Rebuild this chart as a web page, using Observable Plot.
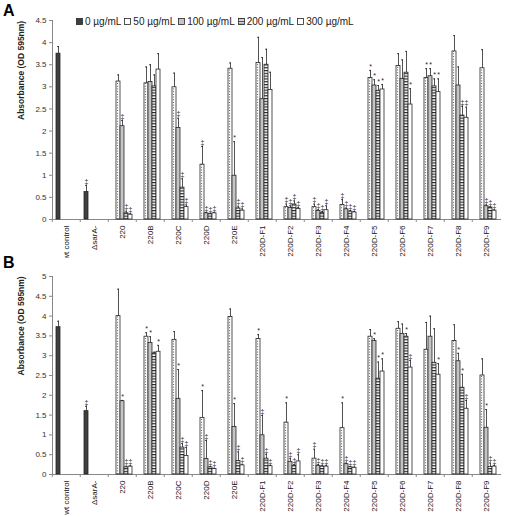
<!DOCTYPE html>
<html><head><meta charset="utf-8">
<script src="https://cdn.jsdelivr.net/npm/d3@7"></script>
<script src="https://cdn.jsdelivr.net/npm/@observablehq/plot@0.6"></script>
<style>
body{margin:0;background:#fff;font-family:"Liberation Sans",Arial,sans-serif;}
#wrap{position:relative;width:510px;height:517px;overflow:hidden;}
#wrap > div.chart{position:absolute;left:0;}
.letter{position:absolute;font-weight:bold;font-size:16px;color:#000;}
#legend{position:absolute;left:76px;top:16px;display:flex;align-items:center;font-size:10px;color:#222;white-space:nowrap;}
#legend .item{display:flex;align-items:center;margin-right:3px;}
#legend svg{margin-right:2px;}
</style></head><body>
<svg width="0" height="0" style="position:absolute">
  <defs>
    <pattern id="stripes" patternUnits="userSpaceOnUse" width="4" height="2.8">
      <rect width="4" height="2.8" fill="white"/>
      <rect y="0" width="4" height="1.2" fill="#2a2a2a"/>
    </pattern>
  </defs>
</svg>
<div id="wrap"></div>
<script>
const categories = ["wt control", "ΔsarA-", "220", "220B", "220C", "220D", "220E",
  "220D-F1", "220D-F2", "220D-F3", "220D-F4", "220D-F5", "220D-F6", "220D-F7", "220D-F8", "220D-F9"];
const series = ["0 µg/mL", "50 µg/mL", "100 µg/mL", "200 µg/mL", "300 µg/mL"];
const fills = ["#3f3f3f", "white", "#c4c4c4", "url(#stripes)", "white"];
const yLabel = "Absorbance (OD 595nm)";
const yTicksA = [0, 0.5, 1, 1.5, 2, 2.5, 3, 3.5, 4, 4.5];
const yTicksB = [0, 0.5, 1, 1.5, 2, 2.5, 3, 3.5, 4, 4.5, 5];

// Panel A
const a0    = [3.75, 0.62, null, null, null, null, null, null, null, null, null, null, null, null, null, null];
const a0err = [0.16, 0.15, null, null, null, null, null, null, null, null, null, null, null, null, null, null];
const a50    = [null, null, 3.12, 3.08, 2.99, 1.24, 3.41, 3.54, 0.28, 0.28, 0.33, 3.20, 3.47, 3.20, 3.80, 3.42];
const a50err = [null, null, 0.15, 0.37, 0.32, 0.41, 0.13, 0.58, 0.07, 0.07, 0.12, 0.17, 0.28, 0.21, 0.36, 0.42];
const a100    = [null, null, 2.11, 3.11, 2.07, 0.14, 0.99, 2.72, 0.26, 0.19, 0.23, 3.03, 3.18, 3.24, 3.03, 0.30];
const a100err = [null, null, 0.13, 0.39, 0.22, 0.02, 0.77, 0.94, 0.05, 0.03, 0.03, 0.13, 0.43, 0.17, 0.42, 0.03];
const a200    = [null, null, 0.14, 3.01, 0.72, 0.12, 0.25, 3.50, 0.34, 0.15, 0.18, 2.91, 3.32, 3.01, 2.35, 0.27];
const a200err = [null, null, 0.05, 0.26, 0.20, 0.02, 0.05, 0.35, 0.08, 0.03, 0.02, 0.12, 0.48, 0.17, 0.21, 0.02];
const a300    = [null, null, 0.11, 3.39, 0.28, 0.14, 0.20, 2.93, 0.24, 0.21, 0.16, 2.94, 2.60, 2.88, 2.30, 0.20];
const a300err = [null, null, 0.02, 0.36, 0.05, 0.02, 0.04, 0.40, 0.03, 0.10, 0.02, 0.11, 0.36, 0.30, 0.24, 0.02];
const aSig0   = ["", "‡", "", "", "", "", "", "", "", "", "", "", "", "", "", ""];
const aSig50  = ["", "", "", "", "", "‡", "", "", "‡", "‡", "‡", "*", "", "*", "", ""];
const aSig100 = ["", "", "‡", "", "‡", "‡", "*", "", "‡", "‡", "‡", "*", "", "*", "", "‡"];
const aSig200 = ["", "", "‡", "", "‡", "‡", "‡", "", "‡", "‡", "‡", "*", "", "*", "‡", "‡"];
const aSig300 = ["", "", "‡", "", "‡", "‡", "‡", "", "‡", "‡", "‡", "*", "*", "*", "‡", "‡"];

// Panel B
const b0    = [3.72, 1.60, null, null, null, null, null, null, null, null, null, null, null, null, null, null];
const b0err = [0.15, 0.12, null, null, null, null, null, null, null, null, null, null, null, null, null, null];
const b50    = [null, null, 4.00, 3.48, 3.40, 1.43, 3.98, 3.42, 1.31, 0.40, 1.17, 3.48, 3.68, 3.15, 3.37, 2.50];
const b50err = [null, null, 0.68, 0.10, 0.21, 0.69, 0.20, 0.11, 0.50, 0.24, 0.64, 0.18, 0.18, 0.69, 0.41, 0.42];
const b100    = [null, null, 1.85, 3.32, 1.91, 0.39, 1.20, 0.99, 0.32, 0.22, 0.26, 3.37, 3.55, 3.48, 2.86, 1.18];
const b100err = [null, null, 0.02, 0.16, 0.74, 0.47, 0.59, 0.50, 0.08, 0.03, 0.03, 0.06, 0.25, 0.52, 0.20, 0.46];
const b200    = [null, null, 0.18, 3.06, 0.68, 0.18, 0.34, 0.40, 0.22, 0.20, 0.18, 2.42, 3.48, 2.82, 2.19, 0.19];
const b200err = [null, null, 0.03, 0.03, 0.10, 0.02, 0.23, 0.11, 0.03, 0.03, 0.02, 0.42, 0.08, 0.86, 0.34, 0.10];
const b300    = [null, null, 0.20, 3.10, 0.47, 0.14, 0.23, 0.21, 0.33, 0.20, 0.17, 2.60, 2.70, 2.52, 1.66, 0.20];
const b300err = [null, null, 0.02, 0.16, 0.21, 0.02, 0.03, 0.02, 0.17, 0.03, 0.02, 0.32, 0.18, 0.28, 0.21, 0.03];
const bSig0   = ["", "‡", "", "", "", "", "", "", "", "", "", "", "", "", "", ""];
const bSig50  = ["", "", "", "*", "", "*", "", "*", "*", "‡", "*", "", "", "", "", ""];
const bSig100 = ["", "", "*", "*", "*", "‡", "*", "‡", "‡", "‡", "‡", "*", "", "", "*", "*"];
const bSig200 = ["", "", "‡", "", "‡", "‡", "‡", "‡", "‡", "‡", "‡", "*", "*", "", "*", "‡"];
const bSig300 = ["", "", "‡", "*", "‡", "‡", "‡", "‡", "‡", "‡", "‡", "*", "‡", "*", "‡", "‡"];

function rows(vals, errs, sigs) {
  const out = [];
  series.forEach((s, j) => categories.forEach((c, i) => {
    const v = vals[j][i];
    if (v == null) return;
    out.push({cat: c, series: s, value: v, top: v + errs[j][i], sig: sigs[j][i]});
  }));
  return out;
}

const dataA = rows([a0, a50, a100, a200, a300], [a0err, a50err, a100err, a200err, a300err], [aSig0, aSig50, aSig100, aSig200, aSig300]);
const dataB = rows([b0, b50, b100, b200, b300], [b0err, b50err, b100err, b200err, b300err], [bSig0, bSig50, bSig100, bSig200, bSig300]);

const ink = "#262626";
function chart(data, yDomain, yTicks, height, mt, mb) {
  return Plot.plot({
    width: 510, height, marginTop: mt, marginBottom: mb, marginLeft: 48, marginRight: 6,
    style: {fontFamily: "'Liberation Sans', Arial, sans-serif", background: "white", color: "#111", overflow: "visible"},
    fx: {domain: categories, padding: 0, label: null},
    x: {domain: series, axis: null, paddingInner: 0, paddingOuter: 0.47},
    y: {domain: yDomain, label: null},
    color: {domain: series, range: fills},
    marks: [
      Plot.frame({anchor: "left", facetAnchor: "left", stroke: "#888"}),
      Plot.frame({anchor: "bottom", stroke: "#888"}),
      Plot.axisY({ticks: yTicks, tickFormat: d => String(d), tickSize: 3, tickPadding: 3, fontSize: 8, stroke: "#888", fill: "#333", label: null}),
      Plot.axisFx({anchor: "bottom", tickSize: 3, tickFormat: () => "", stroke: "#888", dx: -14.25, label: null}),
      Plot.axisFx({anchor: "bottom", tickRotate: -90, tickSize: 0, tickPadding: 6, fontSize: 8, fill: "#111", label: null}),
      Plot.barY(data, {fx: "cat", x: "series", y: "value", fill: "series", stroke: ink, strokeWidth: 0.8}),
      Plot.ruleX(data.filter(d => d.series === series[1]), {fx: "cat", x: "series", y1: 0, y2: "value", stroke: "#333", strokeWidth: 0.9, strokeDasharray: "0.9,1.8", dx: -0.9}),
      Plot.ruleX(data, {fx: "cat", x: "series", y1: "value", y2: "top", stroke: ink, strokeWidth: 0.8}),
      Plot.tickY(data, {fx: "cat", x: "series", y: "top", stroke: ink, strokeWidth: 0.8, insetLeft: 1, insetRight: 1}),
      Plot.text(data.filter(d => d.sig), {fx: "cat", x: "series", y: "top", text: "sig", dy: -4, fontSize: 7, fill: "#222"}),
      Plot.text([yLabel], {text: d => d, frameAnchor: "left", dx: -31, rotate: -90, facetAnchor: "left", fontWeight: "bold", fontSize: 8.5, fill: "#222"})
    ]
  });
}

const wrap = document.getElementById("wrap");
const cA = document.createElement("div"); cA.className = "chart"; cA.style.top = "0px";
cA.appendChild(chart(dataA, [0, 4.5], yTicksA, 258, 20, 39));
const cB = document.createElement("div"); cB.className = "chart"; cB.style.top = "258px";
cB.appendChild(chart(dataB, [0, 5], yTicksB, 259, 18, 43));
wrap.appendChild(cA); wrap.appendChild(cB);

const lA = document.createElement("div"); lA.className = "letter"; lA.textContent = "A"; lA.style.left = "3px"; lA.style.top = "2px";
const lB = document.createElement("div"); lB.className = "letter"; lB.textContent = "B"; lB.style.left = "3px"; lB.style.top = "254px";
wrap.appendChild(lA); wrap.appendChild(lB);

const legend = document.createElement("div"); legend.id = "legend";
series.forEach((s, i) => {
  const item = document.createElement("div"); item.className = "item";
  item.innerHTML = `<svg width="7" height="7"><rect x="0.5" y="0.5" width="6" height="6" fill="${fills[i]}" stroke="${ink}" stroke-width="0.8"/></svg><span>${s}</span>`;
  legend.appendChild(item);
});
wrap.appendChild(legend);
</script>
</body></html>
